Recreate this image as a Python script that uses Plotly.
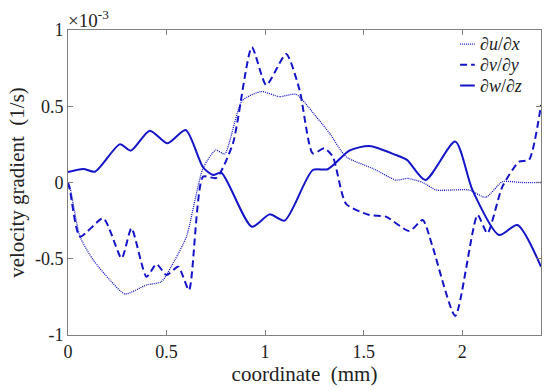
import plotly.graph_objects as go

# values in units of 1e-3 (1/s)
x_u = [0.0, 0.01, 0.061, 0.128, 0.213, 0.289, 0.398, 0.474, 0.542, 0.601, 0.685, 0.75, 0.795,
       0.884, 0.981, 1.073, 1.158, 1.259, 1.327, 1.411, 1.55, 1.664, 1.723, 1.8, 1.867, 1.95, 2.035,
       2.12, 2.204, 2.3, 2.4]
y_u = [0.0, -0.03, -0.355, -0.508, -0.64, -0.731, -0.672, -0.65, -0.508, -0.355, 0.093, 0.213, 0.187,
       0.537, 0.596, 0.563, 0.578, 0.432, 0.323, 0.169, 0.09, 0.016, 0.027, 0.0, -0.049, -0.049, -0.049,
       -0.097, 0.005, 0.0, 0.0]

x_v = [0.0, 0.01, 0.061, 0.179, 0.272, 0.322, 0.398, 0.449, 0.5, 0.559, 0.614, 0.685, 0.753,
       0.837, 0.933, 1.006, 1.107, 1.175, 1.242, 1.301, 1.344, 1.411, 1.529, 1.613, 1.732, 1.8,
       1.85, 1.965, 2.078, 2.128, 2.204, 2.289, 2.339, 2.4]
y_v = [0.0, -0.05, -0.355, -0.235, -0.497, -0.3, -0.618, -0.535, -0.607, -0.552, -0.705, 0.038, 0.03,
       0.257, 0.887, 0.639, 0.843, 0.607, 0.191, 0.224, 0.169, -0.14, -0.213, -0.224, -0.318, -0.246,
       -0.421, -0.875, -0.213, -0.333, -0.027, 0.137, 0.148, 0.508]

x_w = [0.0, 0.078, 0.137, 0.263, 0.319, 0.415, 0.505, 0.597, 0.685, 0.736, 0.778, 0.933, 1.023,
       1.099, 1.242, 1.318, 1.428, 1.529, 1.664, 1.72, 1.813, 1.965, 2.052, 2.187, 2.28, 2.4]
y_w = [0.068, 0.089, 0.071, 0.25, 0.209, 0.34, 0.257, 0.344, 0.1, 0.049, 0.064, -0.29, -0.209,
       -0.25, 0.082, 0.087, 0.209, 0.239, 0.18, 0.148, 0.016, 0.268, -0.049, -0.344, -0.279, -0.552]

series_names = ["∂<i>u</i>/∂<i>x</i>", "∂<i>v</i>/∂<i>y</i>", "∂<i>w</i>/∂<i>z</i>"]

x_ticks = [0, 0.5, 1, 1.5, 2]
x_tick_labels = ["0", "0.5", "1", "1.5", "2"]
y_ticks = [-1, -0.5, 0, 0.5, 1]
y_tick_labels = ["-1", "-0.5", "0", "0.5", "1"]

blue = "#1414c8"
font = "Liberation Serif"
text_color = "#222222"

styles = [dict(width=1.3, dash="1px,1px", smoothing=0.6),
          dict(width=2, dash="7px,4px", smoothing=0.6),
          dict(width=2, dash="solid", smoothing=0.7)]

fig = go.Figure()
for xs, ys, name, st in zip([x_u, x_v, x_w], [y_u, y_v, y_w], series_names, styles):
    fig.add_trace(go.Scatter(x=xs, y=ys, mode="lines", name=name, showlegend=False,
                             line=dict(color=blue, width=st["width"], dash=st["dash"],
                                       shape="spline", smoothing=st["smoothing"])))

# manual legend (short line samples, tight rows) in the top-right corner
leg_rows = [0.954, 0.886, 0.818]
for name, st, yy in zip(series_names, styles, leg_rows):
    fig.add_shape(type="line", xref="paper", yref="paper", x0=0.829, x1=0.86, y0=yy, y1=yy,
                  line=dict(color=blue, width=st["width"], dash=st["dash"]))
    fig.add_annotation(xref="paper", yref="paper", x=0.868, y=yy, xanchor="left", yanchor="middle",
                       text=name, showarrow=False, borderpad=0,
                       font=dict(family=font, size=18, color=text_color))

axis_common = dict(showgrid=False, zeroline=False, showline=True, linecolor="#808080", linewidth=1,
                   mirror="ticks", ticks="inside", ticklen=5, tickcolor="#808080", automargin=False,
                   tickfont=dict(family=font, size=18, color=text_color))

fig.update_layout(
    width=550, height=391,
    margin=dict(l=68, r=9, t=30, b=56),
    paper_bgcolor="white", plot_bgcolor="white",
    font=dict(family=font, color=text_color),
    xaxis=dict(range=[0, 2.4], tickvals=x_ticks, ticktext=x_tick_labels,
               title=dict(text="coordinate\u00a0\u00a0(mm)", font=dict(family=font, size=21), standoff=1),
               **axis_common),
    yaxis=dict(range=[-1, 1], tickvals=y_ticks, ticktext=y_tick_labels,
               title=dict(text="velocity gradient\u00a0\u00a0(1/s)", font=dict(family=font, size=21), standoff=4),
               **axis_common),
    showlegend=False,
)
fig.add_annotation(x=0, y=1, xref="paper", yref="paper", xanchor="left", yanchor="bottom",
                   text="×10<sup>-3</sup>", showarrow=False, xshift=-2, yshift=-3,
                   font=dict(family=font, size=19, color=text_color))

fig.write_html("out.html", config={"displayModeBar": False},
               post_script="document.body.style.margin='0';document.body.style.padding='0';")
